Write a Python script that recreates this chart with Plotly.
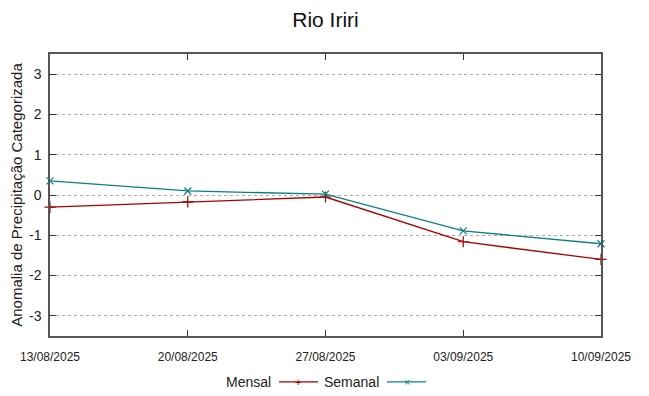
import plotly.graph_objects as go

dates = ["2025-08-13", "2025-08-20", "2025-08-27", "2025-09-03", "2025-09-10"]
tick_labels = ["13/08/2025", "20/08/2025", "27/08/2025", "03/09/2025", "10/09/2025"]
mensal = [-0.30, -0.17, -0.05, -1.16, -1.60]
semanal = [0.35, 0.10, 0.02, -0.89, -1.21]
y_ticks = [-3, -2, -1, 0, 1, 2, 3]

RED = "#a80000"
TEAL = "#0a8080"
FONT = "Liberation Sans"

fig = go.Figure()
fig.add_trace(go.Scatter(x=dates, y=mensal, mode="lines+markers", name="Mensal",
                         line=dict(color=RED, width=1.3),
                         marker=dict(symbol="cross-thin", size=8, line=dict(color=RED, width=1.2)),
                         showlegend=False, cliponaxis=False))
fig.add_trace(go.Scatter(x=dates, y=semanal, mode="lines+markers", name="Semanal",
                         line=dict(color=TEAL, width=1.3),
                         marker=dict(symbol="x-thin", size=7, line=dict(color=TEAL, width=1.2)),
                         showlegend=False, cliponaxis=False))

# page body has an 8px margin: compensate so the plot lands where the reference has it
fig.update_layout(
    width=649, height=396,
    margin=dict(l=42, r=56, t=46, b=68),
    paper_bgcolor="white", plot_bgcolor="white",
    font=dict(family=FONT, color="#222"),
    title=dict(text="Rio Iriri", x=0.5, xref="paper", xanchor="center",
               y=1 - 12 / 396, yref="container", yanchor="middle",
               font=dict(size=21, family=FONT, color="#111")),
    xaxis=dict(type="date", range=[dates[0], dates[-1]], tickvals=dates, ticktext=tick_labels,
               showgrid=False, zeroline=False, showline=True, linecolor="#555", linewidth=1.5,
               mirror="ticks", ticks="inside", ticklen=6, tickcolor="#333", automargin=False,
               ticklabelstandoff=9,
               tickfont=dict(family="Liberation Sans Narrow, Arial Narrow, " + FONT, size=12,
                             color="#222")),
    yaxis=dict(range=[-3.5, 3.5], tickvals=y_ticks, ticktext=[str(v) for v in y_ticks],
               showgrid=True, gridcolor="#aaaaaa", griddash="dot", gridwidth=1,
               zeroline=False, showline=True, linecolor="#555", linewidth=1.5,
               mirror="ticks", ticks="inside", ticklen=6, tickcolor="#333", automargin=False,
               ticklabelstandoff=4,
               tickfont=dict(size=14, color="#222"),
               title=dict(text="Anomalia de Precipitação Categorizada", standoff=6,
                          font=dict(size=15, color="#222"))),
)

# custom legend (gnuplot style: text then sample)
ly = -0.163
fig.add_annotation(text="Mensal", xref="paper", yref="paper", x=0.4047, y=ly, xanchor="right",
                   yanchor="middle", showarrow=False, font=dict(size=14, color="#222"))
fig.add_shape(type="line", xref="paper", yref="paper", x0=0.4156, x1=0.4864, y0=ly, y1=ly,
              line=dict(color=RED, width=1.3))
fig.add_annotation(text="+", xref="paper", yref="paper", x=0.450, y=ly, xanchor="center",
                   yanchor="middle", showarrow=False, font=dict(size=11, color=RED))
fig.add_annotation(text="Semanal", xref="paper", yref="paper", x=0.6007, y=ly, xanchor="right",
                   yanchor="middle", showarrow=False, font=dict(size=14, color="#222"))
fig.add_shape(type="line", xref="paper", yref="paper", x0=0.6116, x1=0.6824, y0=ly, y1=ly,
              line=dict(color=TEAL, width=1.3))
fig.add_annotation(text="×", xref="paper", yref="paper", x=0.648, y=ly, xanchor="center",
                   yanchor="middle", showarrow=False, font=dict(size=11, color=TEAL))

fig.write_html("out.html")
